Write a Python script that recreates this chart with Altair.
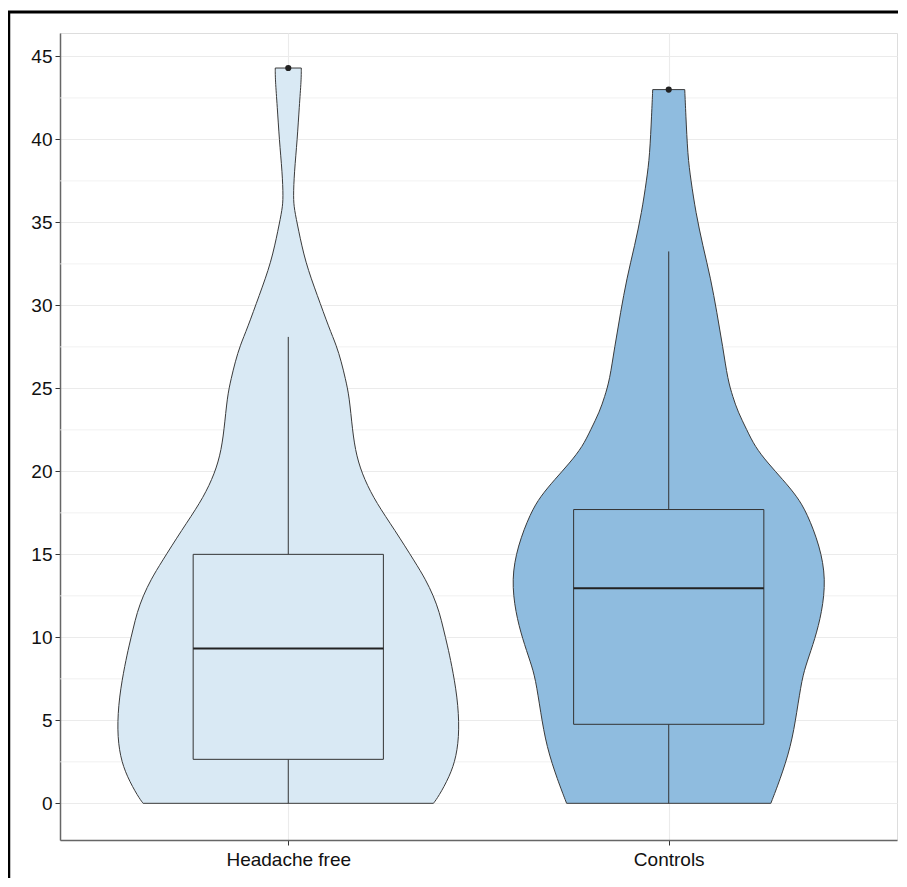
import altair as alt
import pandas as pd

# ---- data ----
groups = ["Headache free", "Controls"]
centers = [1, 2]
colors = ["#d9e9f4", "#8fbcdf"]

# violin outline: value (y) and half-width (pixels of the original),
# scaled afterwards so that the widest violin is 0.45 category units (ggplot scale="area")
hf_y = [0, 0.4, 1.6, 2.8, 4.4, 6.4, 8.4, 9.5, 10.5, 11.5, 12.5, 13.5, 14.5, 16.5, 18.1, 19.5, 20.9,
        22.5, 24.5, 25.6, 26.6, 27.6, 28.6, 30.6, 32.6, 34.6, 35.8, 36.5, 38, 40, 42, 43.6, 44.3]
hf_w = [145, 150, 161, 168, 171, 169, 163, 159, 155, 151, 145, 137, 127, 106, 88, 76, 68,
        64, 61, 57, 53, 48, 41, 29, 17, 10, 6, 5, 6, 9, 11, 13, 13]

ctrl_y = [0, 1.4, 3.4, 5.5, 7.5, 8.5, 9.9, 11.5, 13.5, 15.5, 17.5, 18.5, 19.5, 20.5,
          21.5, 22.5, 23.6, 24.5, 25.5, 27.5, 29.6, 31.6, 33.6, 35.6, 37.6, 39, 41.6, 43.0]
ctrl_w = [102, 111, 122, 128, 133, 138, 146, 153, 157, 151, 138, 128, 114, 99,
          86, 78, 69, 64, 59, 54, 48, 42, 34, 27, 22, 19, 17, 16]

# box plot statistics
q1 = [2.65, 4.76]
median = [9.33, 12.95]
q3 = [15.0, 17.7]
whisk_lo = [0, 0]
whisk_hi = [28.1, 33.25]
outliers = [44.3, 43.0]

y_ticks = [0, 5, 10, 15, 20, 25, 30, 35, 40, 45]
y_minor = [2.5, 7.5, 12.5, 17.5, 22.5, 27.5, 32.5, 37.5, 42.5]

# ---- build tables ----
wmax = max(max(hf_w), max(ctrl_w))
violin_dfs = []
for g, c, ys, ws in [(groups[0], centers[0], hf_y, hf_w), (groups[1], centers[1], ctrl_y, ctrl_w)]:
    rows = []
    for yv, wv in zip(ys, ws):
        hw = wv / wmax * 0.45
        rows.append({"group": g, "v": yv, "lo": c - hw, "hi": c + hw})
    violin_dfs.append(pd.DataFrame(rows))

box_df = pd.DataFrame({
    "group": groups, "c": centers,
    "left": [c - 0.25 for c in centers], "right": [c + 0.25 for c in centers],
    "q1": q1, "median": median, "q3": q3, "lo": whisk_lo, "hi": whisk_hi, "out": outliers,
})
minor_df = pd.DataFrame({"m": y_minor})

xscale = alt.Scale(domain=[0.4, 2.6], nice=False, zero=False)
yscale = alt.Scale(domain=[-2.21, 46.41], nice=False, zero=False)
cscale = alt.Scale(domain=groups, range=colors)

label_expr = f"datum.value == 1 ? '{groups[0]}' : '{groups[1]}'"

minor = alt.Chart(minor_df).mark_rule(color="#ededed", strokeWidth=0.8).encode(
    y=alt.Y("m:Q", scale=yscale)
)

base_axes = alt.Chart(box_df).mark_point(opacity=0).encode(
    x=alt.X("c:Q", scale=xscale,
            axis=alt.Axis(values=centers, labelExpr=label_expr, title=None, grid=True,
                          gridColor="#ebebeb", gridWidth=1.1, tickColor="#333",
                          tickSize=5, labelFontSize=19, labelColor="#111",
                          labelPadding=5, labelFont="Liberation Sans",
                          domainColor="#666", domainWidth=1.5)),
    y=alt.Y("median:Q", scale=yscale,
            axis=alt.Axis(values=y_ticks, title=None, grid=True, gridColor="#ebebeb",
                          gridWidth=1.1, tickColor="#333", tickSize=5, labelFontSize=19,
                          labelColor="#111", labelPadding=3, labelFont="Liberation Sans",
                          domainColor="#666", domainWidth=1.5)),
)

violins = []
for df, col in zip(violin_dfs, colors):
    violins.append(
        alt.Chart(df).mark_area(orient="horizontal", stroke="#3a3a3a", strokeWidth=1,
                                fill=col, opacity=1, interpolate="basis").encode(
            y=alt.Y("v:Q", scale=yscale),
            x=alt.X("lo:Q", scale=xscale),
            x2="hi:Q",
        )
    )

whisk_low = alt.Chart(box_df).mark_rule(color="#333", strokeWidth=1).encode(
    x=alt.X("c:Q", scale=xscale), y=alt.Y("lo:Q", scale=yscale), y2="q1:Q"
)
whisk_high = alt.Chart(box_df).mark_rule(color="#333", strokeWidth=1).encode(
    x=alt.X("c:Q", scale=xscale), y=alt.Y("q3:Q", scale=yscale), y2="hi:Q"
)
boxes = alt.Chart(box_df).mark_rect(stroke="#333", strokeWidth=1).encode(
    x=alt.X("left:Q", scale=xscale), x2="right:Q",
    y=alt.Y("q1:Q", scale=yscale), y2="q3:Q",
    fill=alt.Fill("group:N", scale=cscale, legend=None),
)
med = alt.Chart(box_df).mark_rule(color="#222", strokeWidth=2).encode(
    x=alt.X("left:Q", scale=xscale), x2="right:Q", y=alt.Y("median:Q", scale=yscale)
)
outl = alt.Chart(box_df).mark_circle(color="#222", size=38, opacity=1).encode(
    x=alt.X("c:Q", scale=xscale), y=alt.Y("out:Q", scale=yscale)
)

frame_df = pd.DataFrame({"a": [0]})
frame_top = alt.Chart(frame_df).mark_rule(color="#000", strokeWidth=3).encode(
    x=alt.value(-52), x2=alt.value(840), y=alt.value(-21)
)
frame_left = alt.Chart(frame_df).mark_rule(color="#000", strokeWidth=2.5).encode(
    x=alt.value(-51), y=alt.value(-22), y2=alt.value(850)
)

chart = alt.layer(
    minor, base_axes, *violins, whisk_low, whisk_high, boxes, med, outl, frame_top, frame_left
).properties(
    width=837, height=807,
    autosize=alt.AutoSizeParams(type="none"),
    padding={"left": 52, "top": 25, "right": 1, "bottom": 38},
).configure_view(
    stroke="#555", strokeWidth=1
).configure(background="white")

chart.save("out.html", embed_options={"renderer": "svg", "actions": False})
